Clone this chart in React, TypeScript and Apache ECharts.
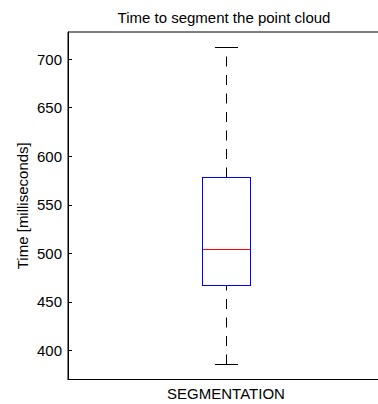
import React, { useEffect, useRef } from "react";
import * as echarts from "echarts";

const categories = ["SEGMENTATION"];
const minValues = [385.5];
const q1Values = [466.5];
const medianValues = [503.5];
const q3Values = [578.5];
const maxValues = [712];
const yMin = 370;
const yMax = 728;

export default function App() {
  const ref = useRef<HTMLDivElement>(null);
  useEffect(() => {
    if (!ref.current) return;
    const chart = echarts.init(ref.current, undefined, { renderer: "svg" });
    const data = categories.map((_, i) => [i, minValues[i], q1Values[i], medianValues[i], q3Values[i], maxValues[i]]);
    const font = "'Liberation Sans', Arial, sans-serif";
    const crisp = (v: number) => Math.round(v - 0.5) + 0.5;

    const geom = (api: any) => {
      const xi = api.value(0);
      const band = api.size([1, 0])[0];
      const cx = crisp(api.coord([xi, api.value(3)])[0]);
      const boxW = band * 0.152;
      const capW = band * 0.073;
      return {
        cx,
        yMinP: crisp(api.coord([xi, api.value(1)])[1]),
        yQ1: crisp(api.coord([xi, api.value(2)])[1]),
        yMed: crisp(api.coord([xi, api.value(3)])[1]),
        yQ3: crisp(api.coord([xi, api.value(4)])[1]),
        yMaxP: crisp(api.coord([xi, api.value(5)])[1]),
        bx0: crisp(cx - boxW / 2),
        bx1: crisp(cx + boxW / 2),
        c0: cx - capW / 2,
        c1: cx + capW / 2,
      };
    };

    chart.setOption({
      animation: false,
      title: {
        text: "Time to segment the point cloud",
        left: 219,
        textAlign: "center",
        top: 5,
        textStyle: { fontFamily: font, fontSize: 15, fontWeight: "normal", color: "#000" },
      },
      grid: { left: 68, top: 32, right: 0, bottom: 24.5, show: true, borderColor: "#000", borderWidth: 1, backgroundColor: "transparent" },
      xAxis: {
        type: "category",
        data: categories,
        axisLine: { lineStyle: { color: "#000", width: 1 } },
        axisTick: { show: false },
        axisLabel: { fontFamily: font, fontSize: 15, color: "#000", margin: 6 },
        splitLine: { show: false },
      },
      yAxis: {
        type: "value",
        min: yMin,
        max: yMax,
        splitNumber: 7,
        name: "Time [milliseconds]",
        nameLocation: "middle",
        nameGap: 38,
        nameMoveOverlap: false,
        nameTextStyle: { fontFamily: font, fontSize: 15, color: "#000" },
        axisLine: { show: true, lineStyle: { color: "#000", width: 1 } },
        axisTick: { show: true, inside: true, length: 4, lineStyle: { color: "#000" } },
        axisLabel: { fontFamily: font, fontSize: 15, color: "#000", margin: 6, showMinLabel: false, showMaxLabel: false },
        splitLine: { show: false },
      },
      series: [
        {
          type: "custom",
          data,
          encode: { x: 0, y: [1, 2, 3, 4, 5] },
          renderItem: (params: any, api: any) => {
            const g = geom(api);
            return {
              type: "group",
              children: [
                { type: "line", shape: { x1: g.cx, y1: g.yQ3, x2: g.cx, y2: g.yMaxP }, style: { stroke: "#000000", lineWidth: 1, lineDash: [10, 8.5] } },
                { type: "line", shape: { x1: g.cx, y1: g.yMinP, x2: g.cx, y2: g.yQ1 }, style: { stroke: "#000000", lineWidth: 1, lineDash: [10, 8.5] } },
                { type: "line", shape: { x1: g.c0, y1: g.yMaxP, x2: g.c1, y2: g.yMaxP }, style: { stroke: "#000000", lineWidth: 1 } },
                { type: "line", shape: { x1: g.c0, y1: g.yMinP, x2: g.c1, y2: g.yMinP }, style: { stroke: "#000000", lineWidth: 1 } },
                { type: "rect", shape: { x: g.bx0 - 0.5, y: g.yQ3 - 0.5, width: g.bx1 - g.bx0 + 1, height: 1 }, style: { fill: "#0000ff" } },
                { type: "rect", shape: { x: g.bx0 - 0.5, y: g.yQ1 - 0.5, width: g.bx1 - g.bx0 + 1, height: 1 }, style: { fill: "#0000ff" } },
                { type: "rect", shape: { x: g.bx0 - 0.5, y: g.yQ3 - 0.5, width: 1, height: g.yQ1 - g.yQ3 + 1 }, style: { fill: "#0000ff" } },
                { type: "rect", shape: { x: g.bx1 - 0.5, y: g.yQ3 - 0.5, width: 1, height: g.yQ1 - g.yQ3 + 1 }, style: { fill: "#0000ff" } },
                { type: "rect", shape: { x: g.bx0 + 0.5, y: g.yMed - 0.5, width: g.bx1 - g.bx0 - 1, height: 1 }, style: { fill: "#ff0000" } },
              ],
            };
          },
        },
      ],
    });
    return () => chart.dispose();
  }, []);
  return <div ref={ref} style={{ position: "fixed", left: 0, top: 0, width: 384, height: 404, background: "#fff" }} />;
}
